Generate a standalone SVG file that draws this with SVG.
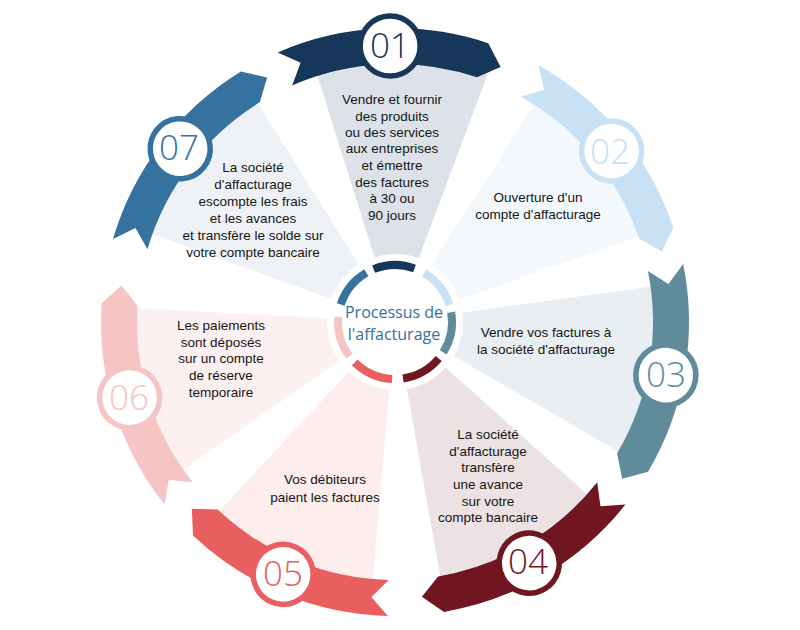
<svg xmlns="http://www.w3.org/2000/svg" width="800" height="630" viewBox="0 0 800 630">
<defs>
<path id="wedge" d="M-22.14,-64.3 L-87.9,-255.29 A270,270 0 0 1 87.9,-255.29 L22.14,-64.3 A68,68 0 0 0 -22.14,-64.3 Z"/>
<path id="ribbon" d="M-112.51,-271.62 A294,294 0 0 1 98.14,-277.14 L110.06,-253.11 L86.12,-243.2 A258,258 0 0 0 -98.73,-238.36 L-89.86,-260.96 Z"/>
<path id="arc" d="M-20.43,-53.21 A57,57 0 0 1 20.43,-53.21"/>
</defs>
<style>
.t{font-family:"Liberation Sans",Arial,sans-serif;font-size:13.5px;fill:#151515;text-anchor:middle}
.n{font-family:"Open Sans",sans-serif;font-weight:300;font-size:35px;text-anchor:middle}
.c{font-family:"Open Sans",sans-serif;font-size:16px;fill:#3570a0;text-anchor:middle}
.ring{fill:none;stroke-width:8}
.badge{fill:#fff;stroke-width:5.5}
</style>
<rect width="800" height="630" fill="#fff"/>

<g id="step01">
<g transform="translate(395,322)">
<use href="#wedge" fill="#dde2e8" transform="rotate(1.5)"/>
<g transform="rotate(-1)">
<use href="#ribbon" fill="#16365a"/>
<circle class="badge" cx="0" cy="-276" r="30" stroke="#16365a"/>
<use href="#arc" class="ring" stroke="#16365a"/>
</g>
</g>
<text class="n" x="390" y="58" fill="#16365a">01</text>
<text class="t"><tspan x="392" y="104">Vendre et fournir</tspan><tspan x="392" y="121">des produits</tspan><tspan x="392" y="137">ou des services</tspan><tspan x="392" y="153">aux entreprises</tspan><tspan x="392" y="170">et émettre</tspan><tspan x="392" y="187">des factures</tspan><tspan x="392" y="203">à 30 ou</tspan><tspan x="392" y="220">90 jours</tspan></text>
</g>

<g id="step02">
<g transform="translate(395,322) rotate(51.7)">
<use href="#wedge" fill="#f3f8fd"/>
<use href="#ribbon" fill="#c9e1f5"/>
<circle class="badge" cx="0" cy="-276" r="30" stroke="#c9e1f5"/>
<use href="#arc" class="ring" stroke="#c9e1f5"/>
</g>
<text class="n" x="610" y="164" fill="#c9e1f5">02</text>
<text class="t"><tspan x="538" y="202">Ouverture d'un</tspan><tspan x="538" y="219">compte d'affacturage</tspan></text>
</g>

<g id="step03">
<g transform="translate(395,322) rotate(101.1)">
<use href="#wedge" fill="#e8eef2"/>
<use href="#ribbon" fill="#5f8b9b"/>
<circle class="badge" cx="0" cy="-276" r="30" stroke="#5f8b9b"/>
<use href="#arc" class="ring" stroke="#5f8b9b"/>
</g>
<text class="n" x="666" y="387" fill="#5f8b9b">03</text>
<text class="t"><tspan x="546" y="337">Vendre vos factures à</tspan><tspan x="546" y="354">la société d'affacturage</tspan></text>
</g>

<g id="step04">
<g transform="translate(395,322) rotate(150.9)">
<use href="#wedge" fill="#ece2e3"/>
<use href="#ribbon" fill="#701620"/>
<circle class="badge" cx="0" cy="-276" r="30" stroke="#701620"/>
<use href="#arc" class="ring" stroke="#701620"/>
</g>
<text class="n" x="528" y="574" fill="#701620">04</text>
<text class="t"><tspan x="488" y="439">La société</tspan><tspan x="488" y="456">d'affacturage</tspan><tspan x="488" y="472">transfère</tspan><tspan x="488" y="489">une avance</tspan><tspan x="488" y="506">sur votre</tspan><tspan x="488" y="522">compte bancaire</tspan></text>
</g>

<g id="step05">
<g transform="translate(395,322) rotate(203.9)">
<use href="#wedge" fill="#fdeded"/>
<use href="#ribbon" fill="#e95f5f"/>
<circle class="badge" cx="0" cy="-276" r="30" stroke="#e95f5f"/>
<use href="#arc" class="ring" stroke="#e95f5f"/>
</g>
<text class="n" x="283" y="586" fill="#e95f5f">05</text>
<text class="t"><tspan x="325" y="484">Vos débiteurs</tspan><tspan x="325" y="502">paient les factures</tspan></text>
</g>

<g id="step06">
<g transform="translate(395,322) rotate(254.1)">
<use href="#wedge" fill="#fdf0f0"/>
<use href="#ribbon" fill="#f5c5c5"/>
<circle class="badge" cx="0" cy="-276" r="30" stroke="#f5c5c5"/>
<use href="#arc" class="ring" stroke="#f5c5c5"/>
</g>
<text class="n" x="129" y="410" fill="#f5c5c5">06</text>
<text class="t"><tspan x="221" y="330">Les paiements</tspan><tspan x="221" y="347">sont déposés</tspan><tspan x="221" y="363">sur un compte</tspan><tspan x="221" y="380">de réserve</tspan><tspan x="221" y="397">temporaire</tspan></text>
</g>

<g id="step07">
<g transform="translate(395,322) rotate(308.9)">
<use href="#wedge" fill="#eef2f6"/>
<use href="#ribbon" fill="#3572a0"/>
<circle class="badge" cx="0" cy="-276" r="30" stroke="#3572a0"/>
<use href="#arc" class="ring" stroke="#3572a0"/>
</g>
<text class="n" x="179" y="160" fill="#3572a0">07</text>
<text class="t"><tspan x="253" y="172">La société</tspan><tspan x="253" y="189">d'affacturage</tspan><tspan x="253" y="206">escompte les frais</tspan><tspan x="253" y="223">et les avances</tspan><tspan x="253" y="240">et transfère le solde sur</tspan><tspan x="253" y="257">votre compte bancaire</tspan></text>
</g>

<g id="center">
<text class="c"><tspan x="394" y="318">Processus de</tspan><tspan x="394" y="340">l'affacturage</tspan></text>
</g>
</svg>
